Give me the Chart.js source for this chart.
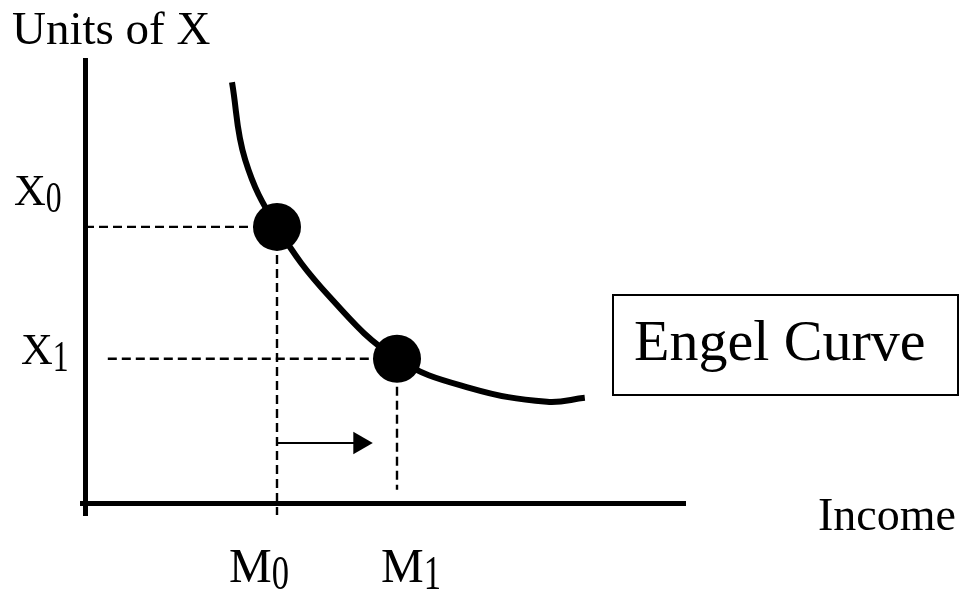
<!DOCTYPE html>
<html>
<head>
<meta charset="utf-8">
<title>Engel Curve</title>
<script src="https://cdn.jsdelivr.net/npm/chart.js@4.4.1/dist/chart.umd.min.js"></script>
<style>
  html, body { margin: 0; padding: 0; background: #fff; }
</style>
</head>
<body>
<canvas id="engelChart" width="960" height="591"></canvas>
<script>
// Engel curve (income on x, units of X on y)
const curveIncome = [2.45, 2.67, 3.20, 4.08, 5.20, 6.42, 7.70, 8.33];
const curveUnits  = [9.50, 7.75, 6.24, 4.66, 3.27, 2.61, 2.30, 2.39];

// the two marked bundles
const incomeMarks = [3.20, 5.20];   // M0, M1
const unitsMarks  = [6.24, 3.27];   // X0, X1

// tick labels as [letter, subscript]
const xTickLabels = [['M', '0'], ['M', '1']];
const yTickLabels = [['X', '0'], ['X', '1']];

// where the dashed guides stop
const guideStartIncome = [0, 0.38];
const guideEndUnits = [-0.25, 0.32];

// the shift arrow from M0 towards M1
const arrowIncome = [3.20, 4.58];
const arrowUnits = 1.37;

const FONT = '"Liberation Serif", "Times New Roman", serif';
const pt = (x, y) => ({ x, y });

// letter with a narrow, dropped subscript
function drawSubLabel(ctx, parts, left, baseline, size) {
  ctx.font = `${size}px ${FONT}`;
  ctx.fillText(parts[0], left, baseline);
  const w = ctx.measureText(parts[0]).width;
  ctx.save();
  ctx.translate(left + w, baseline + 7);
  ctx.scale(0.72, 1);
  ctx.fillText(parts[1], 0, 0);
  ctx.restore();
}

// text, tick labels and the legend box
const labelPlugin = {
  id: 'engelLabels',
  afterDraw(chart) {
    const { ctx, scales: { x, y } } = chart;
    ctx.save();
    ctx.fillStyle = '#000';
    ctx.strokeStyle = '#000';
    ctx.textBaseline = 'alphabetic';

    ctx.font = `47px ${FONT}`;
    ctx.fillText('Units of X', 12, 44);
    ctx.font = `46px ${FONT}`;
    ctx.fillText('Income', 818, 530);

    const yLeft = [14, 21];
    const yShift = [-22, 5];
    yTickLabels.forEach((lab, i) => {
      drawSubLabel(ctx, lab, yLeft[i], y.getPixelForValue(unitsMarks[i]) + yShift[i], 44);
    });

    const xShift = [-48, -16];
    xTickLabels.forEach((lab, i) => {
      drawSubLabel(ctx, lab, x.getPixelForValue(incomeMarks[i]) + xShift[i], 582, 48);
    });

    ctx.lineWidth = 2;
    ctx.strokeRect(613, 295, 345, 100);
    ctx.font = `58px ${FONT}`;
    ctx.fillText('Engel Curve', 634, 360);
    ctx.restore();
  }
};

const dashed = (points) => ({
  data: points,
  showLine: true,
  borderColor: '#000',
  borderWidth: 2.4,
  borderDash: [9, 5],
  pointRadius: 0,
  clip: false
});

const ctx = document.getElementById('engelChart').getContext('2d');
const engelChart = new Chart(ctx, {
  type: 'scatter',
  data: {
    datasets: [
      {
        // bundles
        data: incomeMarks.map((v, i) => pt(v, unitsMarks[i])),
        pointRadius: 24,
        pointBackgroundColor: '#000',
        pointBorderWidth: 0,
        clip: false
      },
      {
        // Engel curve
        data: curveIncome.map((v, i) => pt(v, curveUnits[i])),
        showLine: true,
        tension: 0.4,
        borderColor: '#000',
        borderWidth: 6,
        pointRadius: 0,
        clip: false
      },
      {
        // arrow
        data: arrowIncome.map(v => pt(v, arrowUnits)),
        showLine: true,
        borderColor: '#000',
        borderWidth: 2,
        pointStyle: 'triangle',
        pointRotation: 90,
        pointRadius: [0, 13],
        pointBackgroundColor: '#000',
        pointBorderWidth: 0,
        clip: false
      },
      dashed([pt(guideStartIncome[0], unitsMarks[0]), pt(incomeMarks[0], unitsMarks[0])]),
      dashed([pt(guideStartIncome[1], unitsMarks[1]), pt(incomeMarks[1], unitsMarks[1])]),
      dashed([pt(incomeMarks[0], unitsMarks[0]), pt(incomeMarks[0], guideEndUnits[0])]),
      dashed([pt(incomeMarks[1], unitsMarks[1]), pt(incomeMarks[1], guideEndUnits[1])])
    ]
  },
  options: {
    responsive: false,
    animation: false,
    events: [],
    layout: { padding: { left: 82, right: 275, top: 60, bottom: 76 } },
    plugins: {
      legend: { display: false },
      tooltip: { enabled: false }
    },
    scales: {
      x: {
        type: 'linear',
        min: -0.05,
        max: 10,
        position: { y: 0 },
        ticks: { display: false },
        grid: { display: false, drawTicks: false },
        border: { display: true, width: 5, color: '#000' }
      },
      y: {
        type: 'linear',
        min: -0.25,
        max: 10,
        position: { x: 0 },
        ticks: { display: false },
        grid: { display: false, drawTicks: false },
        border: { display: true, width: 5, color: '#000' }
      }
    }
  },
  plugins: [labelPlugin]
});
</script>
</body>
</html>
